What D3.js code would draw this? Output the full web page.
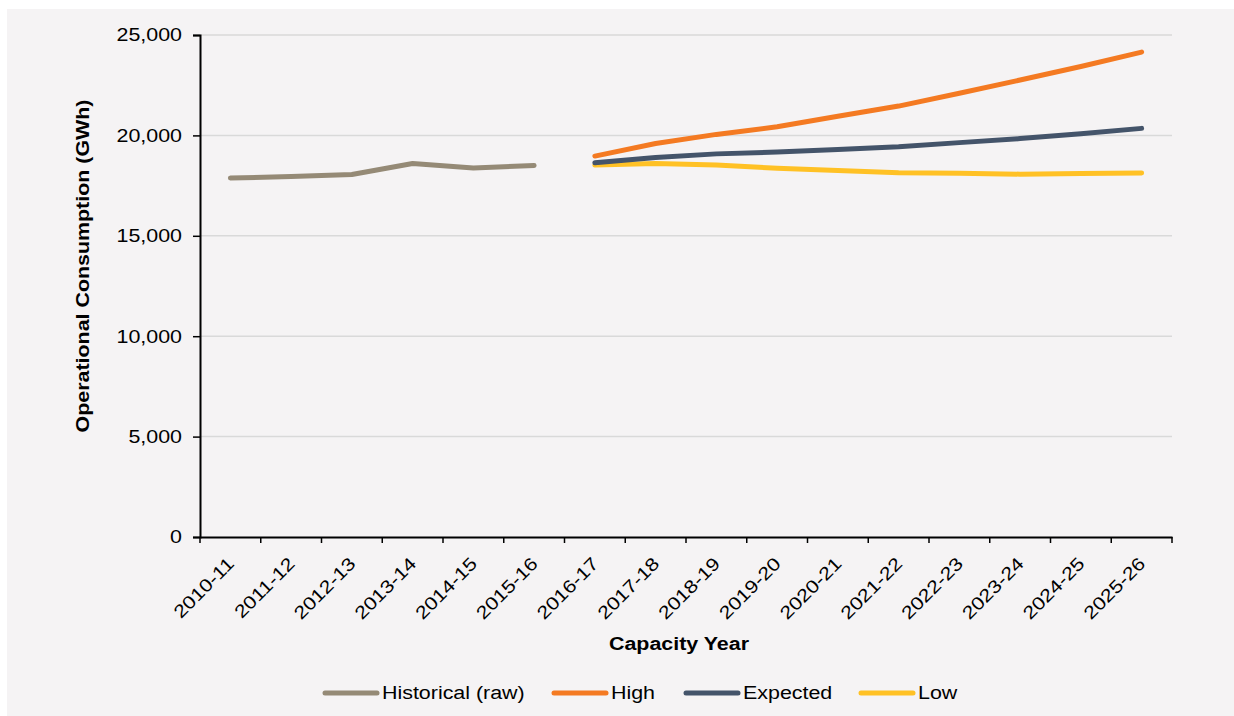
<!DOCTYPE html>
<html>
<head>
<meta charset="utf-8">
<script src="https://cdn.jsdelivr.net/npm/d3@7"></script>
<style>
  html, body { margin: 0; padding: 0; background: #ffffff; }
  svg { display: block; }
  text { font-family: "Liberation Sans", Arial, sans-serif; fill: #000; font-size: 18px; }
</style>
</head>
<body>
<svg id="chart" width="1234" height="716"></svg>
<script>
const categories = ["2010-11","2011-12","2012-13","2013-14","2014-15","2015-16","2016-17","2017-18","2018-19","2019-20","2020-21","2021-22","2022-23","2023-24","2024-25","2025-26"];
const historicalYears = ["2010-11","2011-12","2012-13","2013-14","2014-15","2015-16"];
const historicalValues = [17880, 17950, 18050, 18600, 18380, 18500];
const forecastYears = ["2016-17","2017-18","2018-19","2019-20","2020-21","2021-22","2022-23","2023-24","2024-25","2025-26"];
const highValues = [18970, 19600, 20050, 20430, 20950, 21460, 22100, 22760, 23430, 24150];
const expectedValues = [18640, 18900, 19080, 19170, 19300, 19430, 19640, 19840, 20080, 20350];
const lowValues = [18520, 18600, 18520, 18370, 18250, 18140, 18110, 18070, 18100, 18130];
const yTicks = [0, 5000, 10000, 15000, 20000, 25000];
const seriesNames = ["Historical (raw)", "High", "Expected", "Low"];
const seriesColors = ["#958a76", "#f47a22", "#44546a", "#ffc125"];

const SX = 1.19; // horizontal glyph stretch seen in the reference text

const svg = d3.select("#chart");
svg.append("rect").attr("x", 7).attr("y", 9).attr("width", 1227).attr("height", 707).attr("fill", "#f5f3f4");

const pLeft = 200, pRight = 1172, pTop = 35, pBottom = 537;
const x = d3.scaleBand().domain(categories).range([pLeft, pRight]).padding(0);
const y = d3.scaleLinear().domain([0, 25000]).range([pBottom, pTop]);

function addText(parent, tx, ty, rot, str, anchor, opts = {}) {
  const g = parent.append("g").attr("transform", `translate(${tx},${ty}) rotate(${rot}) scale(${SX},1)`);
  const t = g.append("text").attr("text-anchor", anchor).text(str);
  if (opts.dy) t.attr("dy", opts.dy);
  if (opts.bold) t.style("font-weight", "bold");
  return t;
}

// gridlines
svg.append("g").selectAll("line").data(yTicks.filter(d => d > 0)).join("line")
  .attr("x1", pLeft).attr("x2", pRight)
  .attr("y1", d => y(d)).attr("y2", d => y(d))
  .attr("stroke", "#d9d9d9").attr("stroke-width", 1.5);

// y axis
const yAxis = svg.append("g").attr("transform", `translate(${pLeft},0)`)
  .call(d3.axisLeft(y).tickValues(yTicks).tickFormat("").tickSize(7));
yAxis.select(".domain").attr("stroke", "#000").attr("stroke-width", 2);
yAxis.selectAll(".tick line").attr("stroke", "#000").attr("stroke-width", 1.5);
const yLab = svg.append("g");
yTicks.forEach(v => addText(yLab, pLeft - 18, y(v), 0, d3.format(",")(v), "end", { dy: "0.35em" }));

// x axis
const xAxis = svg.append("g").attr("transform", `translate(0,${pBottom})`)
  .call(d3.axisBottom(x).tickSize(0).tickFormat(""));
xAxis.select(".domain").attr("stroke", "#000").attr("stroke-width", 2);
const boundaries = categories.map(c => x(c)).concat([pRight]);
xAxis.append("g").selectAll("line").data(boundaries).join("line")
  .attr("x1", d => d).attr("x2", d => d).attr("y1", 0).attr("y2", 6)
  .attr("stroke", "#000").attr("stroke-width", 1.5);
const xLab = svg.append("g");
categories.forEach(c => addText(xLab, x(c) + x.bandwidth() / 2 - 4, pBottom + 19, -45, c, "end", { dy: "0.7em" }));

// axis titles
addText(svg, 679, 650, 0, "Capacity Year", "middle", { bold: true });
addText(svg, 89, 266, -90, "Operational Consumption (GWh)", "middle", { bold: true });

// lines
const line = d3.line().x(d => x(d[0]) + x.bandwidth() / 2).y(d => y(d[1]));
const seriesData = [
  d3.zip(historicalYears, historicalValues),
  d3.zip(forecastYears, highValues),
  d3.zip(forecastYears, expectedValues),
  d3.zip(forecastYears, lowValues)
];
const drawOrder = [0, 3, 2, 1];
drawOrder.forEach(i => {
  svg.append("path").datum(seriesData[i]).attr("d", line)
    .attr("fill", "none").attr("stroke", seriesColors[i]).attr("stroke-width", 5)
    .attr("stroke-linecap", "round").attr("stroke-linejoin", "round");
});

// legend
const legendX = [323, 552, 684, 859];
const lg = svg.append("g");
seriesNames.forEach((name, i) => {
  lg.append("line").attr("x1", legendX[i] + 2).attr("x2", legendX[i] + 54).attr("y1", 693).attr("y2", 693)
    .attr("stroke", seriesColors[i]).attr("stroke-width", 5).attr("stroke-linecap", "round");
  addText(lg, legendX[i] + 59, 693, 0, name, "start", { dy: "0.35em" });
});
</script>
</body>
</html>
